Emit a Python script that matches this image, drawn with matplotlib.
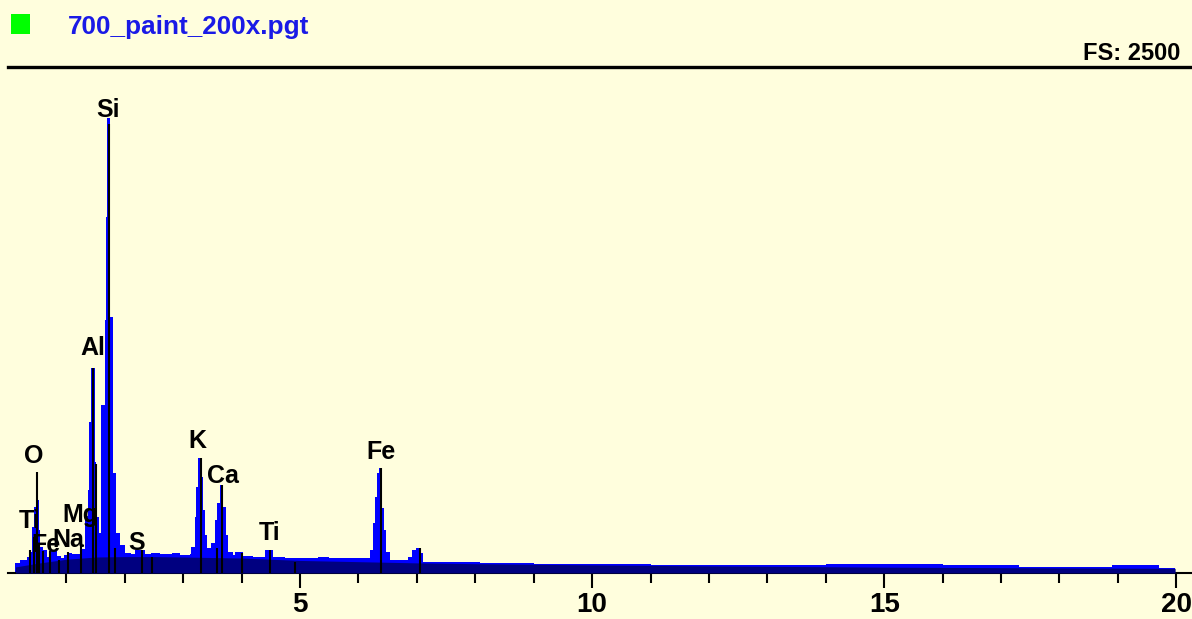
import matplotlib
matplotlib.use("Agg")
import matplotlib.pyplot as plt
from matplotlib.patches import Rectangle

# ---------------- data ----------------
title = "700_paint_200x.pgt"
full_scale = 2500

# spectrum bins (keV edges) and counts per bin
spec_edges = [0.127, 0.212, 0.325, 0.372, 0.411, 0.440, 0.474, 0.509, 0.531, 0.555,
              0.599, 0.668, 0.736, 0.839, 0.90, 0.96, 1.010, 1.10, 1.240, 1.325,
              1.370, 1.387, 1.428, 1.485, 1.514, 1.558, 1.599, 1.656, 1.673, 1.702,
              1.753, 1.798, 1.844, 1.913, 1.998, 2.10, 2.17, 2.34, 2.45, 2.60,
              2.80, 2.95, 3.12, 3.14, 3.197, 3.226, 3.253, 3.312, 3.339, 3.368,
              3.408, 3.483, 3.539, 3.586, 3.625, 3.682, 3.726, 3.767, 3.853, 3.882,
              4.024, 4.20, 4.396, 4.533, 4.75, 4.995, 5.3, 5.5, 5.8, 6.0,
              6.193, 6.240, 6.279, 6.318, 6.353, 6.394, 6.433, 6.479, 6.536, 6.844,
              6.908, 6.993, 7.050, 7.096, 7.507, 8.08, 9.0, 10.0, 11.0, 12.5,
              14.0, 15.2, 16.0, 17.3, 18.9, 19.7, 19.98]
spec_counts = [50, 64, 80, 105, 227, 326, 500, 360, 212,
               128, 113, 79, 113, 85, 75, 90, 100, 92, 120,
               280, 410, 745, 1015, 548, 276, 197, 829, 1250, 1757,
               2250, 1264, 494, 197, 138, 100, 92, 115, 95, 100,
               92, 97, 89, 95, 128, 276, 424, 568, 474, 311,
               188, 123, 148, 262, 345, 434, 326, 188, 104, 90,
               104, 82, 79, 113, 80, 76, 74, 78, 72, 76,
               72, 113, 247, 375, 494, 518, 321, 212, 104, 62,
               79, 113, 124, 99, 52, 56, 50, 46, 44, 41,
               38, 42, 45, 40, 31, 38, 27]

# continuum background (keV, counts)
bg_energy = [0.127, 0.5, 1.0, 1.5, 2.0, 2.5, 3.0, 4.0, 5.0, 6.0, 7.0, 8.0,
             10.0, 12.0, 15.0, 18.0, 19.98]
bg_counts = [30, 48, 68, 79, 81, 81, 79, 74, 62, 56, 50, 46,
             40, 35, 29, 25, 23]

# element line markers (keV, height in counts)
marker_energy = [0.372, 0.44, 0.50, 0.53, 0.60, 0.72, 0.88, 1.03, 1.245, 1.46,
                 1.51, 1.735, 1.84, 2.29, 2.46, 3.30, 3.58, 3.67, 4.00, 4.49,
                 4.91, 6.39, 7.05]
marker_height = [113, 178, 498, 138, 110, 110, 64, 104, 163, 1015,
                 540, 2220, 125, 113, 79, 568, 123, 434, 99, 113,
                 54, 518, 124]

# element labels (text, keV, baseline counts)
label_text = ["Si", "Al", "O", "K", "Ca", "Fe", "Ti", "S", "Mg", "Na", "Ti", "Fe"]
label_x = [1.707, 1.450, 0.435, 3.24, 3.677, 6.382, 4.476, 2.20, 1.24, 1.04, 0.366, 0.657]
label_y = [2251, 1076, 543, 617, 444, 561, 163, 114, 252, 128, 222, 104]

major_ticks = [5, 10, 15, 20]
minor_ticks = [1, 2, 3, 4, 6, 7, 8, 9, 11, 12, 13, 14, 16, 17, 18, 19]

# ---------------- drawing ----------------
W, H = 1192, 619
bgc = "#FFFEDD"
font = "Liberation Sans"

fig = plt.figure(figsize=(W / 100, H / 100), dpi=100, facecolor=bgc)
ax = fig.add_axes([8 / W, (H - 573) / H, (W - 8) / W, (573 - 67) / H])
ax.set_facecolor(bgc)

ax.stairs(spec_counts, spec_edges, fill=True, color="#0000FF", lw=0, zorder=2)
ax.fill_between(bg_energy, 0, bg_counts, color="#000080", lw=0, zorder=3)
ax.vlines(marker_energy, 0, marker_height, colors="black", lw=1.5, zorder=4)

for t, x, y in zip(label_text, label_x, label_y):
    ax.text(x, y, t, ha="center", va="baseline", fontsize=18, fontweight="bold",
            family=font, color="black", zorder=5)

ax.set_xlim(0, (W - 8.3) / 58.4)
ax.set_ylim(0, full_scale)

for s in ["left", "right"]:
    ax.spines[s].set_visible(False)
ax.spines["top"].set_linewidth(2.4)
ax.spines["bottom"].set_linewidth(1.5)
ax.set_yticks([])
ax.set_xticks(major_ticks)
ax.set_xticks(minor_ticks, minor=True)
ax.set_xticklabels([str(t) for t in major_ticks], fontsize=20, fontweight="bold",
                   family=font)
ax.tick_params(axis="x", which="major", length=10.8, width=1.5, pad=3, direction="out")
ax.tick_params(axis="x", which="minor", length=7.2, width=1.5, direction="out")

# header
fig.patches.append(Rectangle((11 / W, 1 - 34 / H), 19 / W, 20 / H,
                             transform=fig.transFigure, color="#00FF00", lw=0))
fig.text(68 / W, 1 - 34 / H, title, ha="left", va="baseline", fontsize=18.8,
         fontweight="bold", family=font, color="#1A1AE6")
fig.text(1180 / W, 1 - 60 / H, "FS: " + str(full_scale), ha="right", va="baseline",
         fontsize=17, fontweight="bold", family=font, color="black")

fig.savefig("out.png", dpi=100, facecolor=bgc)
